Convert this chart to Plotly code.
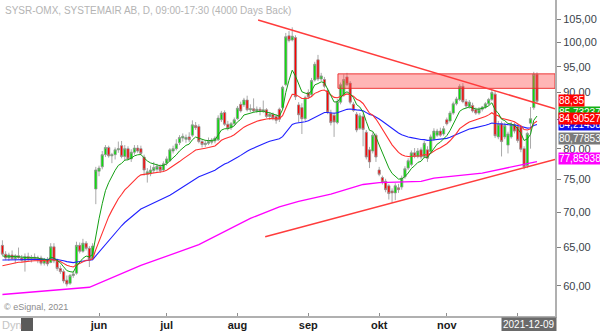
import numpy as np
import pandas as pd
import plotly.graph_objects as go

# ---------------- data ----------------
opens = [65.3, 64.1, 63.6, 64.0, 63.5, 63.9, 63.6, 63.3, 63.8, 63.4, 63.7, 63.5, 63.6, 62.9, 63.4, 63.0, 65.1, 63.2, 62.2, 61.8,
         60.7, 60.3, 61.3, 61.6, 65.3, 64.5, 65.6, 64.9, 63.5, 73.5, 76.3, 77.0, 79.0, 80.2, 78.8, 79.0, 79.8, 80.5, 78.7, 80.0,
         78.3, 79.4, 80.1, 80.0, 78.6, 75.8, 75.9, 76.4, 76.6, 77.0, 76.5, 77.6, 78.0, 79.6, 80.0, 81.0, 81.8, 81.6, 82.0, 82.3,
         84.0, 83.8, 81.2, 80.7, 80.9, 81.1, 81.3, 81.5, 85.0, 86.3, 84.2, 83.6, 84.3, 85.2, 87.8, 87.7, 88.6, 86.8, 87.0, 86.6,
         86.9, 86.5, 86.8, 85.6, 86.0, 85.6, 86.9, 87.2, 91.5, 101.4, 100.5, 101.0, 87.7, 87.2, 85.2, 90.0, 89.6, 92.4, 96.4, 92.6,
         92.5, 90.4, 86.2, 85.8, 84.5, 88.2, 89.6, 93.0, 91.8, 87.8, 86.0, 83.5, 85.6, 82.8, 79.8, 79.6, 82.3, 76.5, 75.3, 74.7,
         74.0, 73.2, 72.9, 73.7, 73.8, 75.4, 76.8, 77.4, 79.3, 78.7, 79.8, 78.7, 79.8, 79.5, 81.6, 82.3, 83.0, 82.5, 85.0, 84.8,
         86.2, 87.9, 88.7, 91.2, 88.3, 87.4, 87.6, 86.8, 86.2, 86.9, 87.3, 87.9, 88.7, 89.7, 82.0, 84.3, 82.0, 80.6, 82.0, 84.1,
         83.8, 83.7, 80.0, 77.2, 84.4, 87.2, 93.5]
highs = [66.0, 64.5, 64.3, 64.6, 64.1, 65.0, 64.0, 64.2, 64.3, 64.0, 64.2, 63.9, 63.9, 63.6, 63.7, 65.6, 65.6, 63.5, 62.6, 62.1,
         61.3, 61.5, 61.8, 65.8, 65.7, 66.2, 65.9, 65.2, 65.6, 77.0, 77.2, 79.6, 80.6, 80.5, 79.3, 80.2, 81.2, 81.3, 80.6, 80.4,
         79.9, 80.6, 80.6, 80.5, 79.0, 76.8, 77.2, 77.8, 77.5, 77.4, 77.9, 78.7, 80.1, 80.5, 81.6, 82.3, 82.6, 82.4, 82.8, 84.9,
         84.6, 84.2, 81.6, 81.5, 81.9, 81.8, 82.1, 85.8, 86.6, 86.7, 84.8, 84.6, 85.4, 87.5, 88.3, 89.0, 89.4, 87.8, 88.9, 87.4,
         87.3, 88.5, 87.1, 86.4, 86.3, 86.0, 87.2, 91.3, 102.0, 102.4, 103.2, 101.5, 88.2, 88.0, 89.4, 90.6, 92.8, 96.0, 97.4, 93.8,
         93.0, 90.8, 86.8, 86.3, 88.8, 91.9, 93.5, 93.8, 92.2, 88.2, 86.4, 86.2, 86.1, 83.2, 80.3, 82.8, 82.6, 77.0, 75.6, 75.1,
         74.3, 73.6, 74.4, 74.3, 75.6, 77.1, 78.4, 79.7, 80.1, 80.1, 80.2, 81.3, 80.4, 82.4, 83.5, 83.4, 83.6, 83.9, 85.4, 86.6,
         88.3, 89.2, 91.6, 91.8, 88.8, 88.6, 88.1, 87.2, 87.3, 87.5, 88.2, 89.0, 90.6, 90.3, 84.8, 84.7, 84.5, 82.9, 84.6, 84.5,
         84.2, 84.1, 80.4, 82.9, 87.3, 94.0, 93.9]
lows = [63.9, 63.3, 63.2, 63.4, 62.9, 63.5, 63.1, 61.8, 63.2, 63.0, 63.3, 62.9, 62.6, 62.6, 62.5, 62.9, 62.9, 61.9, 61.5, 60.3,
        59.9, 60.1, 61.0, 61.4, 64.2, 64.3, 64.6, 62.4, 63.3, 71.2, 75.5, 76.6, 78.6, 78.5, 77.6, 78.2, 79.3, 78.4, 78.0, 78.1,
        77.8, 79.0, 79.3, 78.9, 75.6, 74.5, 75.5, 76.0, 76.2, 76.0, 76.2, 77.2, 77.8, 79.2, 79.7, 80.6, 81.2, 81.0, 81.1, 82.0,
        83.2, 80.9, 80.2, 80.3, 80.6, 80.7, 80.9, 81.3, 84.6, 83.9, 83.1, 83.2, 84.0, 85.0, 86.3, 87.3, 86.5, 86.4, 86.3, 86.2,
        85.8, 86.2, 85.3, 85.0, 84.9, 84.3, 84.6, 86.8, 91.2, 100.0, 100.2, 88.6, 84.5, 82.5, 84.8, 88.8, 89.3, 92.1, 92.2, 92.2,
        90.8, 86.0, 84.0, 82.0, 84.2, 87.8, 89.2, 91.2, 87.8, 86.4, 82.8, 83.2, 80.4, 78.2, 76.8, 79.2, 77.8, 75.5, 74.2, 73.0,
        71.9, 71.4, 71.8, 72.9, 73.4, 75.1, 76.5, 77.1, 78.4, 78.4, 78.2, 78.4, 77.8, 79.2, 81.3, 82.0, 82.0, 82.2, 84.0, 84.5,
        85.9, 87.6, 88.4, 88.0, 87.1, 87.0, 86.3, 85.9, 85.9, 86.5, 87.0, 87.6, 88.4, 81.8, 81.6, 78.7, 81.6, 79.2, 81.7, 82.6,
        81.0, 79.4, 76.6, 76.8, 80.0, 86.8, 88.0]
closes = [64.1, 63.6, 64.0, 63.5, 63.9, 63.6, 63.3, 63.8, 63.4, 63.7, 63.5, 63.6, 62.9, 63.4, 62.8, 65.1, 63.2, 62.2, 61.8, 60.6,
          60.2, 61.3, 61.5, 65.3, 64.5, 65.6, 64.9, 63.4, 65.2, 76.5, 76.8, 79.0, 80.2, 78.8, 79.0, 79.8, 80.0, 78.7, 80.0, 78.3,
          79.4, 80.1, 79.6, 79.2, 76.5, 76.2, 76.5, 76.9, 77.1, 76.4, 77.5, 78.3, 79.8, 80.0, 80.8, 81.9, 82.1, 81.9, 81.5, 84.1,
          83.6, 81.2, 80.7, 80.9, 81.2, 81.4, 81.8, 85.3, 86.2, 84.2, 83.5, 84.3, 85.0, 87.1, 86.6, 88.6, 86.8, 87.0, 86.6, 86.9,
          86.5, 86.8, 85.6, 86.0, 85.3, 84.9, 85.1, 91.0, 101.2, 100.4, 101.3, 89.2, 85.9, 85.2, 89.0, 89.2, 92.3, 95.5, 92.6, 93.2,
          91.2, 86.4, 84.5, 84.6, 88.3, 91.5, 92.5, 91.5, 88.2, 86.7, 83.2, 85.7, 83.3, 78.6, 77.8, 82.3, 78.6, 75.8, 74.6, 73.4,
          72.8, 72.9, 74.0, 73.4, 75.2, 76.7, 78.0, 79.3, 78.7, 79.6, 78.6, 80.9, 78.4, 82.0, 83.0, 83.0, 82.3, 83.4, 84.3, 86.2,
          87.9, 88.8, 91.2, 88.3, 87.5, 88.2, 86.6, 86.2, 86.9, 87.3, 87.9, 88.7, 90.0, 82.2, 84.2, 81.2, 84.0, 82.5, 84.1, 83.0,
          81.4, 79.9, 77.0, 82.6, 85.2, 93.5, 88.35]

holidays = ["2021-05-13", "2021-06-25"]
last_date = "2021-12-09"
month_labels = {6: "jun", 7: "jul", 8: "aug", 9: "sep", 10: "okt", 11: "nov", 12: ""}

# moving averages: periods and starting values read at the left edge
ema_fast_period, ema_fast_seed = 8, 63.8
ema_mid_period, ema_mid_seed = 20, 62.4
ema_slow_period, ema_slow_seed = 50, 63.3

# 200-day average (at trading-day positions)
ma200_pos = [0, 27, 43, 61, 77, 86, 92, 102, 112, 117, 130, 134, 149, 166]
ma200_val = [58.9, 59.8, 62.6, 65.4, 69.1, 70.8, 71.6, 72.7, 74.2, 74.5, 74.7, 75.2, 76.0, 77.86]

# trend lines and resistance zone (trading-day position, price)
upper_trend_pos = [79.4, 171.6]
upper_trend_val = [104.8, 87.0]
lower_trend_pos = [81.6, 171.6]
lower_trend_val = [66.5, 78.2]
zone_pos = [104.2, 171.6]
zone_val = [90.8, 93.6]

# right-side value labels
label_texts = ["85,732377", "84,214380", "80,778539", "84,905279", "88,35", "77,859384"]
label_values = [85.732377, 84.21438, 80.778539, 84.905279, 88.35, 77.859384]
label_colors = ["#12b012", "#1010ee", "#7a7a7a", "#ff0000", "#ff0000", "#ff00ff"]
label_shift = [3, 0, 6, 2, 1, 3]

ytick_vals = [60, 65, 70, 75, 80, 85, 90, 95, 100, 105]
ytick_text = ["60,00", "65,00", "70,00", "75,00", "80,00", "85,00", "90,00", "95,00", "100,00", "105,00"]

# ---------------- derived ----------------
n = len(closes)
dates = pd.bdate_range(end=last_date, periods=n, freq="C", holidays=holidays)
pos = np.arange(n)

tickvals, ticktext = [], []
for m, name in month_labels.items():
    w = np.where(dates.month == m)[0]
    if len(w):
        tickvals.append(int(w[0]))
        ticktext.append(name)


def ema(values, period, seed):
    a = 2.0 / (period + 1)
    e = seed
    out = []
    for v in values:
        e = e + a * (v - e)
        out.append(e)
    return out


fast = ema(closes, ema_fast_period, ema_fast_seed)
mid = ema(closes, ema_mid_period, ema_mid_seed)
slow = ema(closes, ema_slow_period, ema_slow_seed)

fig = go.Figure()

# resistance zone
fig.add_trace(go.Scatter(
    x=[zone_pos[0], zone_pos[1], zone_pos[1], zone_pos[0], zone_pos[0]],
    y=[zone_val[0], zone_val[0], zone_val[1], zone_val[1], zone_val[0]],
    mode="lines", fill="toself", fillcolor="rgba(255,80,80,0.42)",
    line=dict(color="rgba(235,40,40,0.9)", width=1), hoverinfo="skip"))

fig.add_trace(go.Candlestick(
    x=pos, open=opens, high=highs, low=lows, close=closes,
    increasing=dict(line=dict(color="#939393", width=0.8), fillcolor="#00e400"),
    decreasing=dict(line=dict(color="#939393", width=0.8), fillcolor="#ff0000"),
    whiskerwidth=0, hoverinfo="skip"))

fig.add_trace(go.Scatter(x=ma200_pos, y=ma200_val, mode="lines",
                         line=dict(color="#ff00ff", width=1.3), hoverinfo="skip"))
fig.add_trace(go.Scatter(x=pos, y=slow, mode="lines",
                         line=dict(color="#2020ff", width=1.1), hoverinfo="skip"))
fig.add_trace(go.Scatter(x=pos, y=mid, mode="lines",
                         line=dict(color="#ff3030", width=1.1), hoverinfo="skip"))
fig.add_trace(go.Scatter(x=pos, y=fast, mode="lines",
                         line=dict(color="#14a014", width=1.0), hoverinfo="skip"))

fig.add_trace(go.Scatter(x=upper_trend_pos, y=upper_trend_val, mode="lines",
                         line=dict(color="#ff3c3c", width=1.5), hoverinfo="skip"))
fig.add_trace(go.Scatter(x=lower_trend_pos, y=lower_trend_val, mode="lines",
                         line=dict(color="#ff3c3c", width=1.5), hoverinfo="skip"))

FONT = "Liberation Sans, Arial, sans-serif"
W_PLOT = 555.0
H_PLOT = 316.0

annotations = []
annotations.append(dict(xref="paper", yref="paper", x=3 / W_PLOT, y=1 - 11 / H_PLOT,
                        xanchor="left", yanchor="middle", showarrow=False,
                        text="SYSR-OMX, SYSTEMAIR AB, D, 09:00-17:30 (4000 Days Back)",
                        font=dict(family=FONT, size=10, color="#b4b4b4")))
annotations.append(dict(xref="paper", yref="paper", x=2 / W_PLOT, y=1 - 307 / H_PLOT,
                        xanchor="left", yanchor="middle", showarrow=False,
                        text="© eSignal, 2021",
                        font=dict(family=FONT, size=9, color="#8c8c8c")))
annotations.append(dict(xref="paper", yref="paper", x=0 / W_PLOT, y=1 - 324.5 / H_PLOT,
                        xanchor="left", yanchor="middle", showarrow=False,
                        text="Dyn", font=dict(family=FONT, size=11, color="#c4c4c4")))
annotations.append(dict(xref="paper", yref="paper", x=528.5 / W_PLOT, y=1 - 324.5 / H_PLOT,
                        xanchor="center", yanchor="middle", showarrow=False,
                        text="2021-12-09", bgcolor="#6a6a6a", borderpad=1,
                        font=dict(family=FONT, size=10, color="#ffffff")))

for t, v, c, s in zip(label_texts, label_values, label_colors, label_shift):
    annotations.append(dict(xref="paper", yref="y", x=558 / W_PLOT, y=np.log10(v),
                            yshift=s, xanchor="left", yanchor="middle", showarrow=False,
                            text=t, bgcolor=c, borderpad=0,
                            font=dict(family=FONT, size=10, color="#ffffff")))

shapes = [dict(type="rect", xref="paper", yref="paper",
               x0=21 / W_PLOT, x1=33 / W_PLOT, y0=1 - 331 / H_PLOT, y1=1 - 318 / H_PLOT,
               fillcolor="#5a5a5a", line=dict(width=0))]

fig.update_layout(
    width=600, height=331,
    margin=dict(l=0, r=45, t=0, b=15, autoexpand=False),
    paper_bgcolor="white", plot_bgcolor="white",
    showlegend=False, hovermode=False,
    boxgap=0.0,
    annotations=annotations, shapes=shapes,
    xaxis=dict(range=[-0.75, 171.6], showgrid=False, zeroline=False, automargin=False,
               rangeslider=dict(visible=False),
               tickmode="array", tickvals=tickvals, ticktext=ticktext,
               ticks="inside", ticklen=3, tickcolor="#909090",
               ticklabelstandoff=-2,
               showline=True, linecolor="#b0b0b0", linewidth=2,
               tickfont=dict(family=FONT, size=11, color="#1a1a1a", weight="bold")),
    yaxis=dict(type="log", side="right", automargin=False,
               range=[np.log10(56.3), np.log10(109.3)],
               showgrid=False, zeroline=False,
               tickmode="array", tickvals=ytick_vals, ticktext=ytick_text,
               ticks="outside", ticklen=4, tickcolor="#808080",
               showline=True, linecolor="#b0b0b0", linewidth=2,
               tickfont=dict(family=FONT, size=11, color="#3a3f4a")),
)

fig.write_html("out.html")
